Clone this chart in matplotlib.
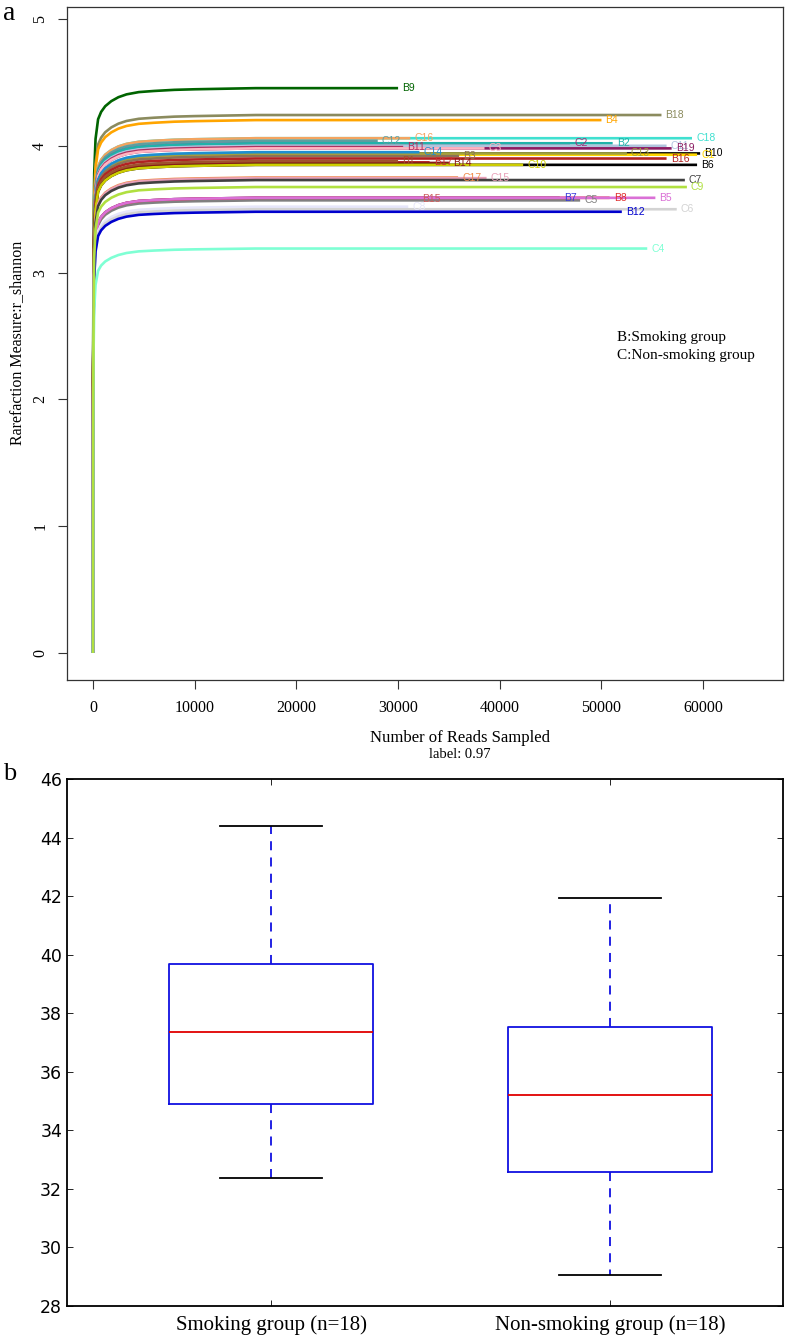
import numpy as np
import matplotlib
matplotlib.use('Agg')
import matplotlib.pyplot as plt

W, H = 788, 1340
serif = 'Liberation Serif'
sans = 'Liberation Sans'

# ---- panel a: rarefaction curves (shannon) ----
samples = ['B9', 'B18', 'B4', 'C18', 'C16', 'C12', 'C2', 'B2', 'C11', 'B19',
           'B11', 'C3', 'B10', 'C1', 'C13', 'C14', 'B3', 'B16', 'B17', 'B14',
           'B1', 'B6', 'C10', 'C17', 'C15', 'C7', 'B15', 'B7', 'C5',
           'B8', 'B5', 'C8', 'C6', 'B12', 'C4', 'C9']
plateau = [4.455, 4.243, 4.203, 4.06, 4.06, 4.04, 4.02, 4.02, 4.00, 3.98,
           3.99, 3.98, 3.94, 3.93, 3.94, 3.95, 3.92, 3.90, 3.87, 3.865,
           3.88, 3.85, 3.85, 3.75, 3.745, 3.73, 3.58, 3.59, 3.57,
           3.59, 3.59, 3.52, 3.50, 3.48, 3.19, 3.675]
depth_end = [30000, 55900, 50000, 58900, 31200, 28000, 46900, 51100, 56400, 56900,
             30500, 38500, 59700, 59400, 52500, 32100, 36000, 56400, 33100, 35000,
             30000, 59400, 42300, 35900, 38700, 58200, 32000, 45900, 47900,
             50800, 55300, 31000, 57400, 52000, 54500, 58400]
colors = ['#006400', '#8b8b5e', '#ffa500', '#40e0d0', '#f4a460', '#5f9ea0', '#a0307a', '#20b2aa', '#b0c4de', '#8b1c62',
          '#b03060', '#ffb6c1', '#000000', '#ffd700', '#a0a040', '#1e8fd0', '#8b7355', '#b22222', '#cd3333', '#8b1a1a',
          '#a0522d', '#000000', '#cdcd00', '#f08a4b', '#e8a0b8', '#404040', '#cd5c5c', '#3a3ada', '#808080',
          '#e03030', '#da70d6', '#e6e6fa', '#d3d3d3', '#0000cd', '#7fffd4', '#b0e040']

rise_depth = [0, 20, 60, 120, 250, 500, 800, 1200, 1800, 2500, 3300, 4500,
              6000, 8000, 10000, 13000, 16000]
rise_frac = [0, 0.55, 0.75, 0.85, 0.91, 0.945, 0.958, 0.968, 0.977, 0.984,
             0.989, 0.993, 0.995, 0.997, 0.998, 0.999, 1.0]

# ---- panel b: boxplot summary ----
groups = ['Smoking group (n=18)', 'Non-smoking group (n=18)']
q1 = [34.90, 32.56]
med = [37.36, 35.20]
q3 = [39.68, 37.52]
whislo = [32.37, 29.06]
whishi = [44.38, 41.93]

fig = plt.figure(figsize=(W / 100, H / 100), dpi=100)


def fx(x):
    return x / W


def fy(y):
    return 1 - y / H


ax = fig.add_axes([fx(67), fy(680), fx(783) - fx(67), fy(7) - fy(680)])
for i, name in enumerate(samples):
    d = [v for v in rise_depth if v < depth_end[i]] + [depth_end[i]]
    f = rise_frac[:len(d) - 1] + [1.0]
    y = np.array(f) * plateau[i]
    ax.plot(d, y, color=colors[i], lw=1.9, solid_capstyle='butt',
            solid_joinstyle='round')
for i, name in enumerate(samples):
    ax.text(depth_end[i] + 400, plateau[i], name, color=colors[i], fontsize=7.5,
            family=sans, va='center', ha='left')

ax.set_xlim(-2557, 67850)
ax.set_ylim(-0.213, 5.095)
ax.set_xticks([0, 10000, 20000, 30000, 40000, 50000, 60000])
ax.set_xticklabels(['0', '10000', '20000', '30000', '40000', '50000', '60000'],
                   family=serif, fontsize=11.5)
ax.set_yticks([0, 1, 2, 3, 4, 5])
ax.set_yticklabels(['0', '1', '2', '3', '4', '5'], family=serif, fontsize=11.5,
                   rotation=90, va='center')
ax.tick_params(direction='out', length=6.5, width=0.8, color='#333333')
ax.tick_params(axis='x', pad=8)
ax.tick_params(axis='y', pad=7)
for s in ax.spines.values():
    s.set_linewidth(0.9)
    s.set_color('#333333')

fig.text(fx(17), fy(343), 'Rarefaction Measure:r_shannon', rotation=90,
         family=serif, fontsize=11.5, ha='center', va='center')
fig.text(fx(460), fy(738), 'Number of Reads Sampled', family=serif,
         fontsize=12, ha='center', va='center')
fig.text(fx(460), fy(754), 'label: 0.97', family=serif, fontsize=10.5,
         ha='center', va='center')
fig.text(fx(617), fy(337), 'B:Smoking group', family=serif, fontsize=11,
         ha='left', va='center')
fig.text(fx(617), fy(356), 'C:Non-smoking group', family=serif, fontsize=11,
         ha='left', va='center')
fig.text(fx(3), fy(14), 'a', family=serif, fontsize=20, ha='left', va='center')

# ---- panel b ----
bx = fig.add_axes([fx(67), fy(1306), fx(783) - fx(67), fy(779) - fy(1306)])
stats = []
for i in range(len(groups)):
    stats.append(dict(med=med[i], q1=q1[i], q3=q3[i], whislo=whislo[i],
                      whishi=whishi[i], fliers=[]))
bx.bxp(stats, positions=[1, 2], widths=0.6, showfliers=False,
       boxprops=dict(color='#1010e0', lw=1.3),
       whiskerprops=dict(color='#1010e0', lw=1.3, linestyle=(0, (5, 4))),
       capprops=dict(color='black', lw=1.3),
       medianprops=dict(color='#e00000', lw=1.3))
bx.set_xlim(0.398, 2.51)
bx.set_ylim(28, 46)
bx.set_yticks(np.arange(28, 47, 2))
bx.set_yticklabels([str(v) for v in range(28, 47, 2)], fontsize=12.5,
                   family='DejaVu Sans')
bx.set_xticks([1, 2])
bx.set_xticklabels(groups, family=serif, fontsize=15)
bx.tick_params(direction='in', length=4, width=0.6, top=True, right=True)
bx.tick_params(axis='x', pad=7)
for s in bx.spines.values():
    s.set_linewidth(1.3)
fig.text(fx(3), fy(774), 'b', family=serif, fontsize=19, ha='left', va='center')

fig.savefig('out.png', dpi=100)
